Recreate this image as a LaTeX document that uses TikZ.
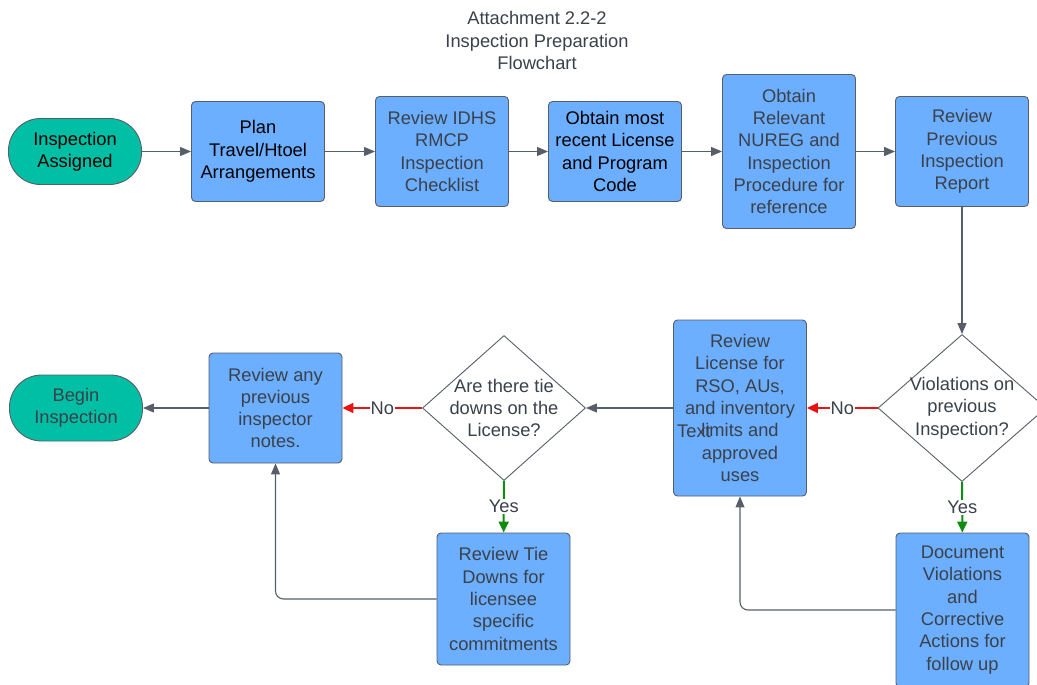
\documentclass[tikz,border=0pt]{standalone}
\usepackage{fontspec}
\setmainfont{Liberation Sans}
\usetikzlibrary{shapes.geometric,arrows.meta}
\definecolor{boxblue}{RGB}{108,174,255}
\definecolor{termteal}{RGB}{0,191,165}
\definecolor{edgegray}{RGB}{88,94,104}
\definecolor{txtgray}{RGB}{58,65,74}
\definecolor{nored}{RGB}{232,20,20}
\definecolor{yesgreen}{RGB}{16,140,16}
\newcommand\boxfont{\fontsize{18.3}{22.3}\selectfont}
\newcommand\titlefont{\fontsize{18.3}{22.5}\selectfont}
\tikzset{
  box/.style={draw=edgegray, fill=boxblue, rounded corners=4pt, line width=0.9pt,
    minimum width=133pt, inner sep=0pt, align=center, font=\boxfont, text=txtgray},
  term/.style={draw=edgegray, fill=termteal, rounded corners=32pt, line width=0.9pt,
    minimum width=133pt, minimum height=66pt, inner sep=0pt, align=center, font=\boxfont, text=txtgray},
  decision/.style={diamond, draw=edgegray, fill=white, line width=0.9pt, inner sep=0pt},
  lbl/.style={fill=white, inner sep=1pt, font=\boxfont, text=txtgray},
  arr/.style={draw=edgegray, line width=1.1pt, -{Triangle[length=11pt,width=9pt]}},
  noarr/.style={draw=nored, line width=2pt, -{Triangle[length=11pt,width=10pt]}},
  yesarr/.style={draw=yesgreen, line width=2pt, -{Triangle[length=11pt,width=10pt]}}
}
\begin{document}
\begin{tikzpicture}[x=1pt,y=-1pt]
\useasboundingbox (0,0) rectangle (1037,685);
\node[font=\titlefont, text=txtgray, align=center] (title) at (537,40.5) {Attachment 2.2-2\\Inspection Preparation\\Flowchart};

% top row
\node[term, text=black] (assigned) at (75,151.5) {Inspection\\Assigned};
\node[box, text=black, minimum height=100pt] (plan) at (258,151.5) {Plan\\Travel/Htoel\\Arrangements};
\node[box, minimum height=110pt] (idhs) at (442,151.5) {Review IDHS\\RMCP\\Inspection\\Checklist};
\node[box, text=black, minimum height=100pt] (recent) at (615,151.5) {Obtain most\\recent License\\and Program\\Code};
\node[box, minimum height=154pt] (nureg) at (789,151.5) {Obtain\\Relevant\\NUREG and\\Inspection\\Procedure for\\reference};
\node[box, minimum height=110pt] (prevrep) at (962,151.5) {Review\\Previous\\Inspection\\Report};
\foreach \a/\b in {assigned/plan, plan/idhs, idhs/recent, recent/nureg, nureg/prevrep}
  \draw[arr] (\a) -- (\b);

% decisions and lower row
\node[decision, minimum width=168pt, minimum height=147pt,
  label={[font=\boxfont, align=center, text=txtgray]center:Violations on\\previous\\Inspection?}] (viol) at (962,408) {};
\node[box, minimum height=176pt] (lic) at (740,408) {Review\\License for\\RSO, AUs,\\and inventory\\limits and\\approved\\uses};
\node[font=\boxfont, text=txtgray] (stray) at (694,431) {Text};
\node[decision, minimum width=163pt, minimum height=145pt,
  label={[font=\boxfont, align=center, text=txtgray]center:Are there tie\\downs on the\\License?}] (tie) at (504,408) {};
\node[box, minimum height=110pt] (anyprev) at (275.5,408) {Review any\\previous\\inspector\\notes.};
\node[term] (begin) at (76,408) {Begin\\Inspection};
\node[box, minimum height=132pt] (tiedown) at (503.5,599) {Review Tie\\Downs for\\licensee\\specific\\commitments};
\node[box, minimum height=154pt] (doc) at (962.5,610) {Document\\Violations\\and\\Corrective\\Actions for\\follow up};

\draw[arr] (prevrep) -- (viol);
\draw[noarr] (viol) -- node[lbl] {No} (lic);
\draw[arr] (lic) -- (tie);
\draw[noarr] (tie) -- node[lbl] {No} (anyprev);
\draw[arr] (anyprev) -- (begin);
\draw[yesarr] (tie) -- node[lbl] {Yes} (tiedown);
\draw[yesarr] (viol) -- node[lbl] {Yes} (doc);
\draw[arr, rounded corners=8pt] (tiedown.west) -| (anyprev.south);
\draw[arr, rounded corners=8pt] (doc.west) -| (lic.south);
\end{tikzpicture}
\end{document}
